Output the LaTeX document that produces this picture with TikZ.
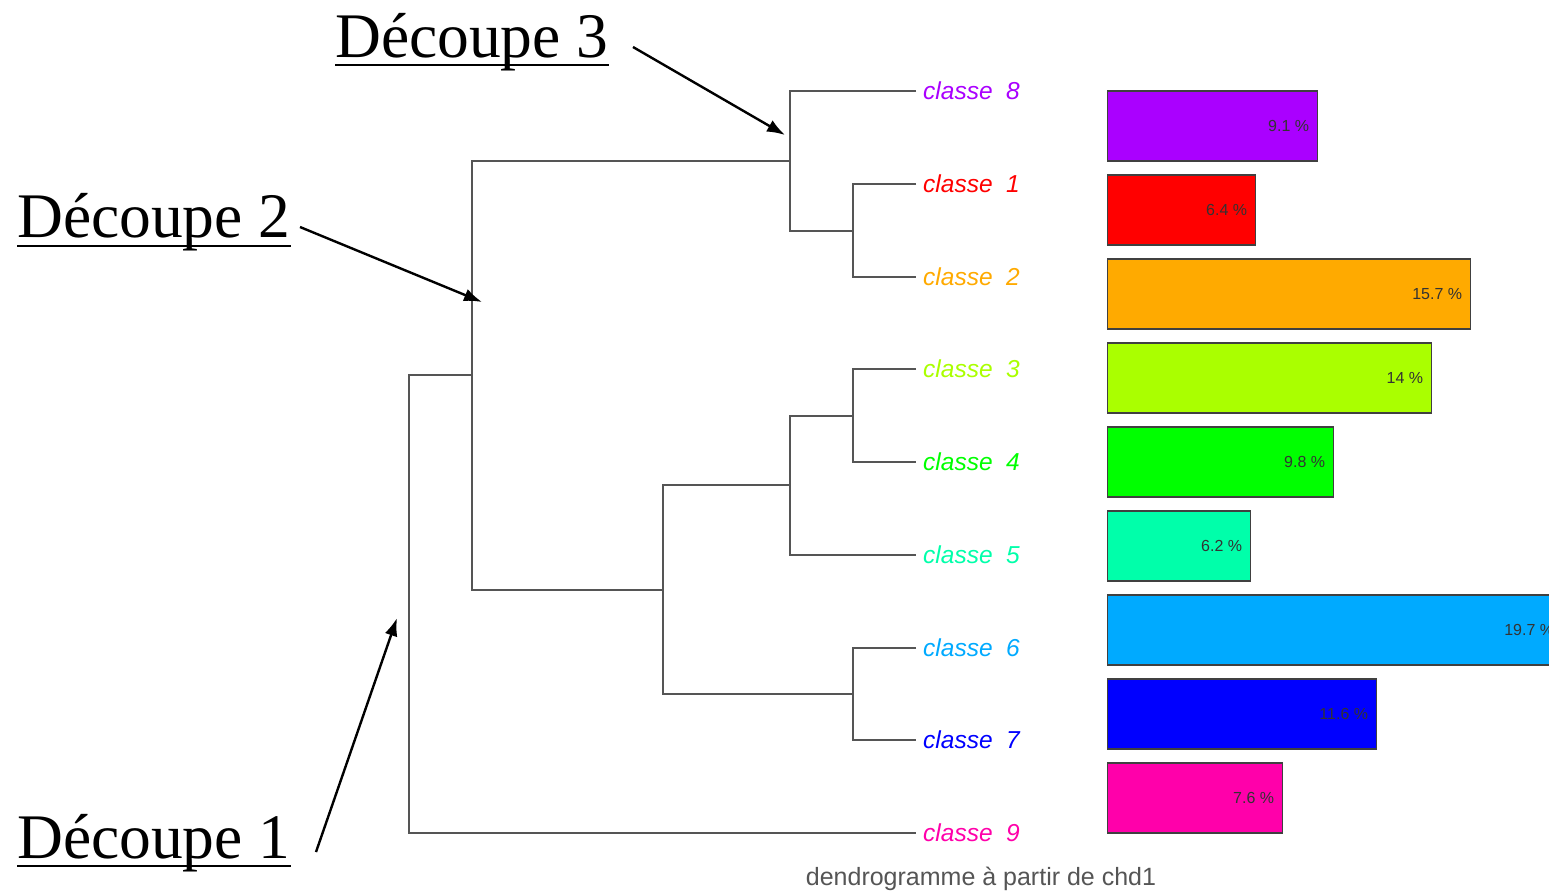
\documentclass[tikz,border=0pt]{standalone}
\usepackage{fontspec}
\setmainfont{Liberation Sans}
\newfontfamily\serifD{Liberation Serif}
\usetikzlibrary{arrows.meta}
\definecolor{cpurple}{HTML}{AA00FF}
\definecolor{cred}{HTML}{FF0000}
\definecolor{corange}{HTML}{FFAA00}
\definecolor{cyg}{HTML}{AAFF00}
\definecolor{cgreen}{HTML}{00FF00}
\definecolor{caqua}{HTML}{00FFAA}
\definecolor{csky}{HTML}{00AAFF}
\definecolor{cblue}{HTML}{0000FF}
\definecolor{cpink}{HTML}{FF00AA}
\definecolor{tree}{HTML}{555555}
\tikzset{
  treeline/.style={draw=tree, line width=2pt},
  cls/.style={anchor=west, inner sep=0pt, font=\fontsize{24.5}{26}\selectfont\itshape},
  barbox/.style={draw=black!75, line width=1.3pt, minimum height=70pt, inner sep=0pt, anchor=west},
  pct/.style={anchor=east, inner sep=0pt, xshift=-9pt, text=black!80, font=\fontsize{16}{18}\selectfont},
  decoupe/.style={anchor=base west, inner sep=0pt, font=\serifD\fontsize{63.5}{66}\selectfont},
  uline/.style={line width=2.6pt},
  pointer/.style={line width=2.4pt, -{Latex[length=18pt,width=13pt]}},
}
\begin{document}
\begin{tikzpicture}[x=1pt, y=-1pt]
\clip (0,0) rectangle (1549,891);
\fill[white] (0,0) rectangle (1549,891);

% leaves
\coordinate (l8) at (916,91);
\coordinate (l1) at (916,184);
\coordinate (l2) at (916,277);
\coordinate (l3) at (916,369);
\coordinate (l4) at (916,462);
\coordinate (l5) at (916,555);
\coordinate (l6) at (916,648);
\coordinate (l7) at (916,740);
\coordinate (l9) at (916,833);
% merges
\coordinate (n12) at (853,230.5);
\coordinate (n812) at (790,160.5);
\coordinate (n34) at (853,415.5);
\coordinate (n345) at (790,485);
\coordinate (n67) at (853,694);
\coordinate (n34567) at (663,589.5);
\coordinate (nA) at (472,375);
\coordinate (root) at (409,604);

\draw[treeline] (l1) -| (n12) |- (l2);
\draw[treeline] (l8) -| (n812) |- (n12);
\draw[treeline] (l3) -| (n34) |- (l4);
\draw[treeline] (n34) -| (n345) |- (l5);
\draw[treeline] (l6) -| (n67) |- (l7);
\draw[treeline] (n345) -| (n34567) |- (n67);
\draw[treeline] (n812) -| (nA) |- (n34567);
\draw[treeline] (nA) -| (root) |- (l9);

% class labels
\node[cls, text=cpurple] (c8) at (923,91) {classe\ \ 8};
\node[cls, text=cred] (c1) at (923,184) {classe\ \ 1};
\node[cls, text=corange] (c2) at (923,277) {classe\ \ 2};
\node[cls, text=cyg] (c3) at (923,369) {classe\ \ 3};
\node[cls, text=cgreen] (c4) at (923,462) {classe\ \ 4};
\node[cls, text=caqua] (c5) at (923,555) {classe\ \ 5};
\node[cls, text=csky] (c6) at (923,648) {classe\ \ 6};
\node[cls, text=cblue] (c7) at (923,740) {classe\ \ 7};
\node[cls, text=cpink] (c9) at (923,833) {classe\ \ 9};

% bars
\node[barbox, fill=cpurple, minimum width=210pt] (b8) at (1107,126) {};
\node[barbox, fill=cred, minimum width=148pt] (b1) at (1107,210) {};
\node[barbox, fill=corange, minimum width=363pt] (b2) at (1107,294) {};
\node[barbox, fill=cyg, minimum width=324pt] (b3) at (1107,378) {};
\node[barbox, fill=cgreen, minimum width=226pt] (b4) at (1107,462) {};
\node[barbox, fill=caqua, minimum width=143pt] (b5) at (1107,546) {};
\node[barbox, fill=csky, minimum width=455pt] (b6) at (1107,630) {};
\node[barbox, fill=cblue, minimum width=269pt] (b7) at (1107,714) {};
\node[barbox, fill=cpink, minimum width=175pt] (b9) at (1107,798) {};

\node[pct] at (b8.east) {9.1 \%};
\node[pct] at (b1.east) {6.4 \%};
\node[pct] at (b2.east) {15.7 \%};
\node[pct] at (b3.east) {14 \%};
\node[pct] at (b4.east) {9.8 \%};
\node[pct] at (b5.east) {6.2 \%};
\node[pct] at (b6.east) {19.7 \%};
\node[pct] at (b7.east) {11.6 \%};
\node[pct] at (b9.east) {7.6 \%};

% caption
\node[text=tree, inner sep=0pt, font=\fontsize{25}{27}\selectfont] (cap) at (981,879) {dendrogramme à partir de chd1};

% Découpe labels
\node[decoupe] (d3) at (335,57) {Découpe 3};
\node[decoupe] (d2) at (17,237) {Découpe 2};
\node[decoupe] (d1) at (17,858) {Découpe 1};
\draw[uline] ([yshift=-8pt]d3.base west) -- ([yshift=-8pt]d3.base east);
\draw[uline] ([yshift=-9pt]d2.base west) -- ([yshift=-9pt]d2.base east);
\draw[uline] ([yshift=-8pt]d1.base west) -- ([yshift=-8pt]d1.base east);

% arrows
\coordinate (s3) at (633,47);
\coordinate (t3) at (785,135);
\coordinate (s2) at (300,227);
\coordinate (t2) at (482,302);
\coordinate (s1) at (316,852);
\coordinate (t1) at (397,618);
\draw[pointer] (s3) -- (t3);
\draw[pointer] (s2) -- (t2);
\draw[pointer] (s1) -- (t1);
\end{tikzpicture}
\end{document}
